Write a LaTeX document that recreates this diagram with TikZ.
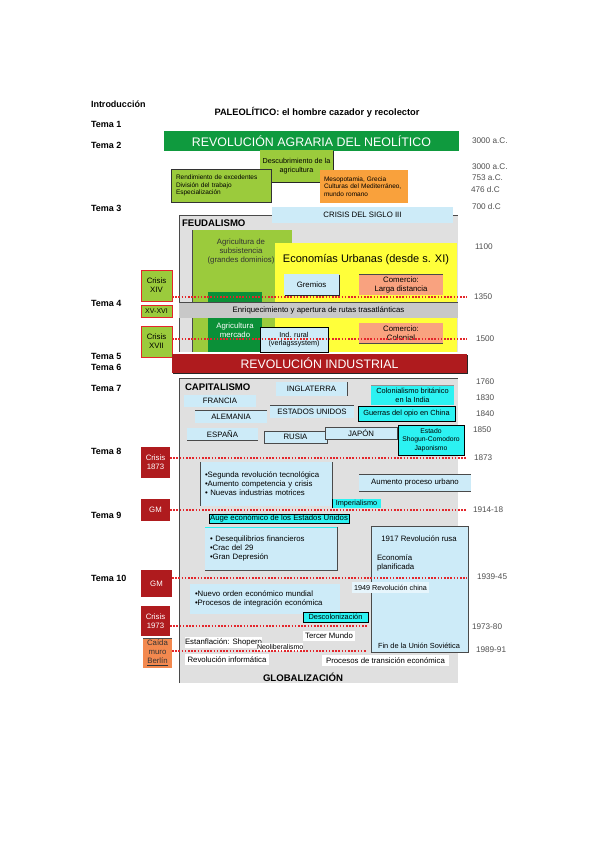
\documentclass[tikz,border=0pt]{standalone}
\usepackage{fontspec}
\setmainfont{Liberation Sans}
\usetikzlibrary{shadows}
\definecolor{dgreen}{HTML}{0F9A3E}
\definecolor{lgreen}{HTML}{9BCB3C}
\definecolor{mgreen}{HTML}{0B9038}
\definecolor{orng}{HTML}{F9A13C}
\definecolor{salmon}{HTML}{F9A27F}
\definecolor{yel}{HTML}{FFFF3A}
\definecolor{lblue}{HTML}{CDEBF8}
\definecolor{pblue}{HTML}{E6F5FC}
\definecolor{cyanb}{HTML}{2CF2F2}
\definecolor{dred}{HTML}{AF1B1E}
\definecolor{bgray}{HTML}{E0E0E0}
\definecolor{bandc}{HTML}{C8C8C8}
\definecolor{dline}{HTML}{4A4A4A}
\definecolor{berl}{HTML}{F3894F}
\definecolor{rdot}{HTML}{E3262B}
\definecolor{dat}{HTML}{505050}
\newcommand\mybox[7]{\node[#2,anchor=north west,minimum width={#5pt-#3pt},minimum height={#6pt-#4pt}] (#1) at (#3,#4) {#7};}
\begin{document}
\begin{tikzpicture}[x=1pt,y=-1pt,
  every node/.style={inner sep=0pt,outer sep=0pt,align=center,font=\fontsize{7.8}{9}\selectfont},
  sh/.style={drop shadow={shadow xshift=1.2pt,shadow yshift=-1.2pt,fill=black!85,opacity=1}},
  lab/.style={anchor=west,font=\bfseries\fontsize{9}{10}\selectfont},
  datel/.style={anchor=west,text=dat,font=\fontsize{8.2}{9}\selectfont},
  reddots/.style={rdot,line width=1.6pt,dash pattern=on 1.6pt off 1.6pt},
  dl/.style={dline,line width=0.9pt},
  redbox/.style={fill=dred,text=white},
  sidegreen/.style={fill=lgreen,draw=rdot,line width=0.8pt},
  small/.style={font=\fontsize{6.5}{7.8}\selectfont},
  head/.style={font=\bfseries\fontsize{9.6}{10}\selectfont}]
\useasboundingbox (0,0) rectangle (599,848);
\fill[white] (0,0) rectangle (599,848);

% left labels
\node[lab] (intro) at (91,104) {Introducción};
\node[lab] (t1) at (91,124) {Tema 1};
\node[lab] (t2) at (91,145) {Tema 2};
\node[lab] (t3) at (91,208) {Tema 3};
\node[lab] (t4) at (91,303) {Tema 4};
\node[lab] (t5) at (91,356) {Tema 5};
\node[lab] (t6) at (91,367) {Tema 6};
\node[lab] (t7) at (91,388) {Tema 7};
\node[lab] (t8) at (91,451) {Tema 8};
\node[lab] (t9) at (91,515) {Tema 9};
\node[lab] (t10) at (91,578) {Tema 10};

% title and neolithic
\node[font=\bfseries\fontsize{9.3}{10}\selectfont] (paleo) at (317,112) {PALEOLÍTICO: el hombre cazador y recolector};
\mybox{neo}{fill=dgreen,text=white,font=\fontsize{12.4}{13}\selectfont}{164}{131}{459}{151}{REVOLUCIÓN AGRARIA DEL NEOLÍTICO}
\mybox{desc}{fill=lgreen,sh,font=\fontsize{7.2}{9}\selectfont}{260}{150}{333}{182}{Descubrimiento de la\\agricultura}
\node[fill=lgreen,draw=black!80,line width=0.5pt,sh,anchor=north west,minimum height=33pt,text width=90pt,inner xsep=5pt,align=left,small] (rend) at (171,169) {Rendimiento de excedentes\\División del trabajo\\Especialización};
\node[fill=orng,anchor=north west,minimum height=33pt,text width=80pt,inner xsep=4pt,align=left,small] (meso) at (320,170) {Mesopotamia, Grecia\\Culturas del Mediterráneo,\\mundo romano};

% feudalism
\mybox{feud}{fill=bgray}{179}{215}{458}{352}{}
\draw[dl] (feud.south west) -- (feud.north west) -- (feud.north east);
\node[anchor=west,head] (feudl) at (182,223) {FEUDALISMO};
\mybox{cr3}{fill=lblue}{272}{207}{453}{223}{CRISIS DEL SIGLO III}
\mybox{agsub}{fill=lgreen}{192}{230}{292}{352}{}
\draw[dl] (agsub.north west) -- (agsub.south west);
\node[text=black!80] (agsubt) at (241,251) {Agricultura de\\subsistencia\\(grandes dominios)};
\mybox{agmer}{fill=mgreen}{208}{292}{262}{352}{}
\mybox{yelb}{fill=yel}{275}{243}{457}{352}{}
\node[font=\fontsize{11}{12}\selectfont] (econ) at (366,260) {Economías Urbanas (desde s. XI)};
\mybox{grem}{fill=lblue,sh}{284}{274}{339}{295}{Gremios}
\mybox{comld}{fill=salmon}{359}{274}{443}{295}{Comercio:\\Larga distancia}
\draw[dl] (comld.north west) -- (comld.north east);
\mybox{band}{fill=bandc}{179}{302}{458}{318}{Enriquecimiento y apertura de rutas trasatlánticas}
\draw[dl] (band.north west) -- (band.north east);
\node[text=white] (agmert) at (235,330) {Agricultura\\mercado};
\mybox{indr}{fill=lblue,draw=black,line width=0.6pt,font=\fontsize{7.2}{8.5}\selectfont}{260}{327}{328}{352}{Ind. rural\\(verlagssystem)}
\mybox{comcol}{fill=salmon}{359}{323}{443}{343}{Comercio:\\Colonial}
\draw[dl] (comcol.south west) -- (comcol.south east);

\mybox{c14}{sidegreen}{141}{270}{172}{301}{Crisis\\XIV}
\mybox{c1516}{sidegreen,font=\fontsize{7}{8}\selectfont}{141}{305}{172}{317}{XV-XVI}
\mybox{c17}{sidegreen}{141}{326}{172}{357}{Crisis\\XVII}
\coordinate (e1) at (467,297);
\coordinate (e2) at (467,339);
\draw[reddots] (c14.east |- e1) -- (e1);
\draw[reddots] (c17.east |- e2) -- (e2);

% industrial revolution
\mybox{rind}{fill=dred,text=white,sh,font=\fontsize{12.3}{13}\selectfont}{172}{354}{467}{373}{REVOLUCIÓN INDUSTRIAL}

% capitalism
\mybox{cap}{fill=bgray}{179}{378}{458}{683}{}
\draw[dl] (cap.south west) -- (cap.north west) -- (cap.north east);
\node[anchor=west,head] (capl) at (185,387) {CAPITALISMO};
\mybox{ing}{fill=lblue}{276}{382}{347}{396}{INGLATERRA}
\draw[dl] (ing.north east) -- (ing.south east);
\mybox{fra}{fill=lblue}{184}{395}{256}{407}{FRANCIA}
\mybox{ale}{fill=lblue}{195}{410}{267}{423}{ALEMANIA}
\draw[dl] (ale.north west) -- (ale.north east);
\mybox{eeuu}{fill=lblue}{270}{405}{354}{418}{ESTADOS UNIDOS}
\draw[dl] (eeuu.north west) -- (eeuu.north east);
\mybox{esp}{fill=lblue}{187}{428}{258}{440}{ESPAÑA}
\draw[dl] (esp.south west) -- (esp.south east);
\mybox{rus}{fill=lblue,draw=dline,line width=0.7pt}{264}{431}{327}{443}{RUSIA}
\mybox{jap}{fill=lblue,draw=dline,line width=0.7pt}{325}{427}{397}{439}{JAPÓN}
\mybox{colind}{fill=cyanb,font=\fontsize{7.4}{9}\selectfont}{371}{385}{454}{405}{Colonialismo británico\\en la India}
\draw[dline!60,line width=0.6pt] (colind.north west) -- (colind.north east);
\mybox{opio}{fill=cyanb,draw=black,line width=0.6pt,font=\fontsize{7.4}{9}\selectfont}{358}{406}{455}{421}{Guerras del opio en China}
\mybox{est}{fill=cyanb,draw=black,line width=0.6pt,font=\fontsize{6.8}{8.5}\selectfont}{398}{425}{464}{455}{Estado\\Shogun-Comodoro\\Japonismo}

\mybox{c1873}{redbox}{141}{447}{170}{478}{Crisis\\1873}
\coordinate (e3) at (467,458);
\draw[reddots] (c1873.east |- e3) -- (e3);
\node[fill=lblue,anchor=north west,minimum height=44pt,text width=122pt,inner xsep=5pt,align=left] (seg) at (200,462) {•Segunda revolución tecnológica\\•Aumento competencia y crisis\\• Nuevas industrias motrices};
\draw[dl] (seg.north west) -- (seg.south west);
\draw[dl] (seg.north east) -- (seg.south east);
\mybox{aum}{fill=lblue}{359}{474}{471}{491}{Aumento proceso urbano}
\draw[dl] (aum.north west) -- (aum.north east);
\draw[dl] (aum.south west) -- (aum.south east);
\mybox{imp}{fill=cyanb,font=\fontsize{7.3}{8}\selectfont}{332}{499}{381}{508}{Imperialismo}
\draw[black,line width=0.9pt] (imp.north west) -- (imp.south west);
\mybox{gm1}{redbox}{141}{499}{170}{521}{GM}
\coordinate (e4) at (467,510);
\draw[reddots] (gm1.east |- e4) -- (e4);
\mybox{auge}{fill=cyanb,draw=black,line width=0.6pt}{209}{514}{349}{523}{Auge económico de los Estados Unidos}
\node[fill=lblue,anchor=north west,minimum height=43pt,text width=122pt,inner xsep=5pt,align=left] (desq) at (205,527) {• Desequilibrios financieros\\•Crac del 29\\•Gran Depresión};
\draw[cyanb,line width=0.8pt] (desq.north west) -- (desq.north east);
\draw[dl] (desq.south west) -- (desq.south east) -- (desq.north east);

\mybox{rusa}{fill=lblue,draw=dline,line width=0.7pt}{371}{526}{468}{652}{}
\node (rusa1) at (419,539) {1917 Revolución rusa};
\node[anchor=west,align=left] (rusa2) at (377,563) {Economía\\planificada};
\node[font=\fontsize{7.4}{9}\selectfont] (rusa3) at (419,646) {Fin de la Unión Soviética};
\mybox{china}{fill=pblue,font=\fontsize{7.2}{8}\selectfont}{352}{582}{429}{593}{1949 Revolución china}
\mybox{gm2}{redbox}{141}{570}{172}{597}{GM}
\coordinate (e5) at (467,578);
\draw[reddots] (gm2.east |- e5) -- (e5);
\node[fill=lblue,anchor=north west,minimum height=30pt,text width=140pt,inner xsep=5pt,align=left] (nuevo) at (190,584) {•Nuevo orden económico mundial\\•Procesos de integración económica};
\mybox{descol}{fill=cyanb,draw=black,line width=0.6pt,font=\fontsize{7.4}{8}\selectfont}{303}{612}{368}{622}{Descolonización}
\mybox{c1973}{redbox}{141}{606}{170}{636}{Crisis\\1973}
\coordinate (e6) at (367,626);
\draw[reddots] (c1973.east |- e6) -- (e6);
\mybox{estf}{fill=white}{185}{637}{255}{648}{Estanflación: Shopero}
\mybox{terc}{fill=white}{303}{631}{355}{641}{Tercer Mundo}
\mybox{neol}{fill=white,font=\fontsize{7}{8}\selectfont}{257}{643}{303}{651}{Neoliberalismo}
\mybox{berl}{fill=berl,text=black!80}{143}{638}{172}{668}{Caída\\muro\\\underline{Berlín}}
\draw[dl] (berl.north west) -- (berl.north east);
\coordinate (e7) at (367,651);
\draw[reddots] (berl.east |- e7) -- (e7);
\mybox{revinf}{fill=white}{185}{654}{269}{665}{Revolución informática}
\mybox{proc}{fill=white}{322}{655}{449}{666}{Procesos de transición económica}
\node[head] (glob) at (303,677) {GLOBALIZACIÓN};

% dates
\node[datel] (d1) at (472,141) {3000 a.C.};
\node[datel] (d2) at (472,167) {3000 a.C.};
\node[datel] (d3) at (472,178) {753 a.C.};
\node[datel] (d4) at (471,190) {476 d.C};
\node[datel] (d5) at (472,207) {700 d.C};
\node[datel] (d6) at (475,247) {1100};
\node[datel] (d7) at (474,297) {1350};
\node[datel] (d8) at (476,339) {1500};
\node[datel] (d9) at (476,382) {1760};
\node[datel] (d10) at (476,398) {1830};
\node[datel] (d11) at (476,414) {1840};
\node[datel] (d12) at (473,430) {1850};
\node[datel] (d13) at (474,458) {1873};
\node[datel] (d14) at (473,510) {1914-18};
\node[datel] (d15) at (477,577) {1939-45};
\node[datel] (d16) at (472,627) {1973-80};
\node[datel] (d17) at (476,650) {1989-91};
\end{tikzpicture}
\end{document}
